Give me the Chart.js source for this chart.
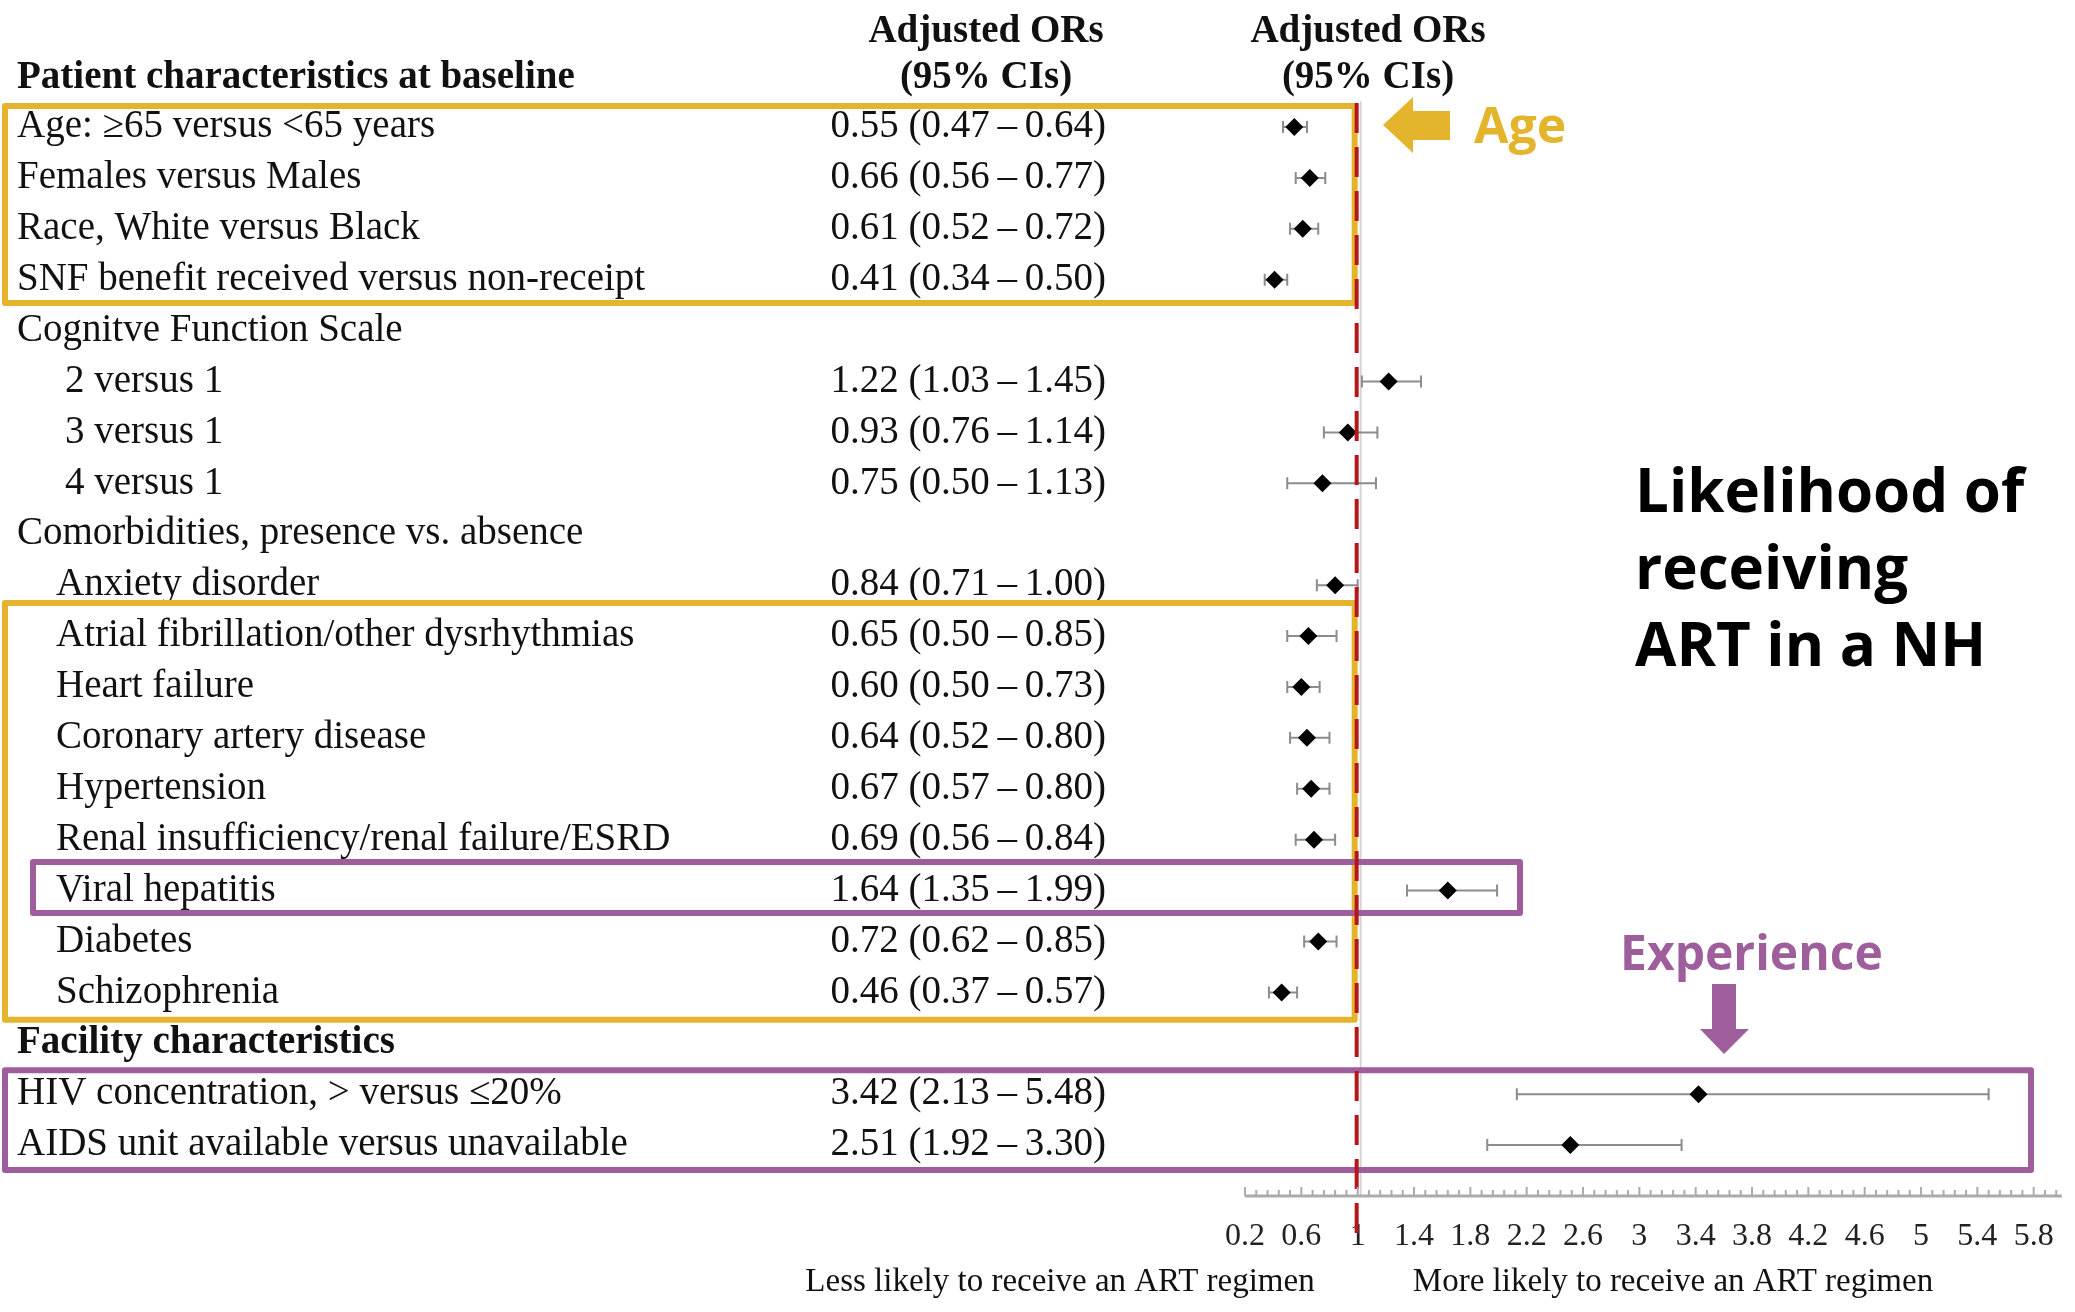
<!DOCTYPE html>
<html>
<head>
<meta charset="utf-8">
<title>Adjusted ORs for receiving ART</title>
<script src="https://cdn.jsdelivr.net/npm/chart.js@4.4.1/dist/chart.umd.min.js"></script>
<style>
  html, body { margin: 0; padding: 0; background: #fff; }
  #wrap { width: 2075px; height: 1312px; }
</style>
</head>
<body>
<div id="wrap"><canvas id="forestChart" width="2075" height="1312"></canvas></div>
<script>
// one entry per table row, top to bottom
const rowLabels = [
  'Age: \u226565 versus <65 years',
  'Females versus Males',
  'Race, White versus Black',
  'SNF benefit received versus non-receipt',
  'Cognitve Function Scale',
  '2 versus 1',
  '3 versus 1',
  '4 versus 1',
  'Comorbidities, presence vs. absence',
  'Anxiety disorder',
  'Atrial fibrillation/other dysrhythmias',
  'Heart failure',
  'Coronary artery disease',
  'Hypertension',
  'Renal insufficiency/renal failure/ESRD',
  'Viral hepatitis',
  'Diabetes',
  'Schizophrenia',
  'Facility characteristics',
  'HIV concentration, > versus \u226420%',
  'AIDS unit available versus unavailable'
];
const rowTypes = [
  'item', 'item', 'item', 'item',
  'group', 'sub', 'sub', 'sub',
  'group', 'indent', 'indent', 'indent', 'indent', 'indent', 'indent', 'indent', 'indent', 'indent',
  'title', 'item', 'item'
];
const oddsRatios = [0.55, 0.66, 0.61, 0.41, null, 1.22, 0.93, 0.75, null,
  0.84, 0.65, 0.60, 0.64, 0.67, 0.69, 1.64, 0.72, 0.46, null, 3.42, 2.51];
const ciLower = [0.47, 0.56, 0.52, 0.34, null, 1.03, 0.76, 0.50, null,
  0.71, 0.50, 0.50, 0.52, 0.57, 0.56, 1.35, 0.62, 0.37, null, 2.13, 1.92];
const ciUpper = [0.64, 0.77, 0.72, 0.50, null, 1.45, 1.14, 1.13, null,
  1.00, 0.85, 0.73, 0.80, 0.80, 0.84, 1.99, 0.85, 0.57, null, 5.48, 3.30];

const tickValues = [0.2, 0.6, 1, 1.4, 1.8, 2.2, 2.6, 3, 3.4, 3.8, 4.2, 4.6, 5, 5.4, 5.8];
const tickLabels = ['0.2', '0.6', '1', '1.4', '1.8', '2.2', '2.6', '3', '3.4', '3.8', '4.2', '4.6', '5', '5.4', '5.8'];

const SERIF = '"Liberation Serif", "Times New Roman", serif';
const SANS = '"Open Sans", "Noto Sans", sans-serif';
const GOLD = '#E4B52C';
const PURPLE = '#9E5E9B';
const RED = '#B5161D';

const labelIndent = { title: 17, group: 17, item: 17, indent: 56, sub: 65 };

const points = [];
oddsRatios.forEach((v, i) => { if (v !== null) points.push({ x: v, y: i }); });

function fmt(v) { return v.toFixed(2); }

function roundedBox(ctx, x1, y1, x2, y2, color) {
  ctx.save();
  ctx.strokeStyle = color;
  ctx.lineWidth = 6;
  ctx.lineJoin = 'round';
  ctx.strokeRect(x1, y1, x2 - x1, y2 - y1);
  ctx.restore();
}

const forestDecor = {
  id: 'forestDecor',
  beforeDatasetsDraw(chart) {
    const { ctx, chartArea, scales: { x, y } } = chart;
    const x1 = x.getPixelForValue(1);
    ctx.save();
    // null line at OR = 1
    ctx.strokeStyle = '#d4d4d4';
    ctx.lineWidth = 2;
    ctx.beginPath();
    ctx.moveTo(x1 + 3, y.getPixelForValue(-0.5));
    ctx.lineTo(x1 + 3, chartArea.bottom);
    ctx.stroke();

    // confidence intervals
    ctx.strokeStyle = '#8c8c8c';
    ctx.lineWidth = 2;
    oddsRatios.forEach((v, i) => {
      if (v === null) return;
      const py = y.getPixelForValue(i);
      const xl = x.getPixelForValue(ciLower[i]);
      const xh = x.getPixelForValue(ciUpper[i]);
      ctx.beginPath();
      ctx.moveTo(xl, py); ctx.lineTo(xh, py);
      ctx.moveTo(xl, py - 6); ctx.lineTo(xl, py + 6);
      ctx.moveTo(xh, py - 6); ctx.lineTo(xh, py + 6);
      ctx.stroke();
    });
    ctx.restore();
  },
  afterDatasetsDraw(chart) {
    const { ctx, chartArea, scales: { x, y } } = chart;
    const x1 = x.getPixelForValue(1);
    ctx.save();

    // column headers
    ctx.fillStyle = '#111';
    ctx.textBaseline = 'middle';
    ctx.font = 'bold 39px ' + SERIF;
    ctx.textAlign = 'left';
    ctx.fillText('Patient characteristics at baseline', 17, y.getPixelForValue(-0.97));
    ctx.textAlign = 'center';
    ['Adjusted ORs', '(95% CIs)'].forEach((t, k) => {
      const py = y.getPixelForValue(-1.87 + k * 0.9);
      ctx.fillText(t, 986, py);
      ctx.fillText(t, 1368, py);
    });

    // row labels and estimates
    rowLabels.forEach((label, i) => {
      const py = y.getPixelForValue(i);
      ctx.font = (rowTypes[i] === 'title' ? 'bold ' : '') + '39px ' + SERIF;
      ctx.textAlign = 'left';
      ctx.fillText(label, labelIndent[rowTypes[i]], py);
      if (oddsRatios[i] !== null) {
        ctx.font = '39px ' + SERIF;
        ctx.textAlign = 'right';
        ctx.fillText(fmt(oddsRatios[i]) + ' (' + fmt(ciLower[i]) + '\u2009\u2013\u2009' + fmt(ciUpper[i]) + ')', 1106, py);
      }
    });

    // highlight boxes
    roundedBox(ctx, 5, y.getPixelForValue(-0.41), x1 - 3, y.getPixelForValue(3.46), GOLD);
    roundedBox(ctx, 5, y.getPixelForValue(9.35), x1 - 3, y.getPixelForValue(17.54), GOLD);
    roundedBox(ctx, 33, y.getPixelForValue(14.44), 1520, y.getPixelForValue(15.44), PURPLE);
    roundedBox(ctx, 5, y.getPixelForValue(18.53), 2031, y.getPixelForValue(20.49), PURPLE);

    // dashed reference at OR = 1
    ctx.strokeStyle = RED;
    ctx.lineWidth = 4;
    ctx.setLineDash([30, 14]);
    ctx.beginPath();
    ctx.moveTo(x1 - 1, 103);
    ctx.lineTo(x1 - 1, 1240);
    ctx.stroke();
    ctx.setLineDash([]);

    // axis ruler with ticks pointing up
    const base = chartArea.bottom;
    ctx.strokeStyle = '#ababab';
    ctx.lineWidth = 3;
    ctx.beginPath();
    ctx.moveTo(x.getPixelForValue(x.min), base);
    ctx.lineTo(x.getPixelForValue(x.max), base);
    ctx.stroke();
    ctx.lineWidth = 2;
    ctx.beginPath();
    for (let k = 0; ; k++) {
      const v = tickValues[0] + k * 0.08;
      if (v > x.max + 1e-6) break;
      const px = x.getPixelForValue(v);
      const len = k % 5 === 0 ? 9 : 6;
      ctx.moveTo(px, base);
      ctx.lineTo(px, base - len);
    }
    ctx.stroke();

    // axis captions
    ctx.fillStyle = '#111';
    ctx.font = '33px ' + SERIF;
    ctx.textAlign = 'center';
    ctx.textBaseline = 'middle';
    ctx.fillText('Less likely to receive an ART regimen', 1060, 1282);
    ctx.fillText('More likely to receive an ART regimen', 1673, 1282);

    // gold arrow and label
    ctx.fillStyle = GOLD;
    ctx.beginPath();
    ctx.moveTo(1383, 125);
    ctx.lineTo(1413, 97);
    ctx.lineTo(1413, 111);
    ctx.lineTo(1450, 111);
    ctx.lineTo(1450, 140);
    ctx.lineTo(1413, 140);
    ctx.lineTo(1413, 153);
    ctx.closePath();
    ctx.fill();
    ctx.textAlign = 'left';
    ctx.textBaseline = 'alphabetic';
    ctx.font = 'bold 50px ' + SANS;
    ctx.fillText('Age', 1474, 143);

    // purple arrow and label
    ctx.fillStyle = PURPLE;
    ctx.beginPath();
    ctx.moveTo(1712, 984);
    ctx.lineTo(1736, 984);
    ctx.lineTo(1736, 1029);
    ctx.lineTo(1749, 1029);
    ctx.lineTo(1724, 1054);
    ctx.lineTo(1700, 1029);
    ctx.lineTo(1712, 1029);
    ctx.closePath();
    ctx.fill();
    ctx.font = 'bold 48px ' + SANS;
    ctx.fillText('Experience', 1620, 970);

    // side note
    ctx.fillStyle = '#000';
    ctx.font = 'bold 60px ' + SANS;
    ['Likelihood of', 'receiving', 'ART in a NH'].forEach((t, k) => {
      ctx.fillText(t, 1635, 512 + k * 77);
    });
    ctx.restore();
  }
};

new Chart(document.getElementById('forestChart'), {
  type: 'scatter',
  data: {
    datasets: [{
      data: points,
      pointStyle: 'rectRot',
      pointRadius: 9,
      backgroundColor: '#000',
      borderWidth: 0
    }]
  },
  options: {
    responsive: false,
    animation: false,
    devicePixelRatio: 1,
    events: [],
    layout: { padding: { left: 1245, right: 6, top: 100, bottom: 0 } },
    plugins: { legend: { display: false }, tooltip: { enabled: false } },
    scales: {
      x: {
        type: 'linear',
        min: 0.2,
        max: 6.0,
        grid: { display: false, drawTicks: false },
        border: { display: false },
        afterBuildTicks: axis => { axis.ticks = tickValues.map(v => ({ value: v })); },
        afterFit: axis => { axis.height = 116; },
        ticks: {
          autoSkip: false,
          maxRotation: 0,
          padding: 21,
          color: '#222',
          font: { family: SERIF, size: 32 },
          callback: (value, index) => tickLabels[index]
        }
      },
      y: {
        type: 'linear',
        display: false,
        reverse: true,
        min: -0.53,
        max: 21.0
      }
    }
  },
  plugins: [forestDecor]
});
</script>
</body>
</html>
